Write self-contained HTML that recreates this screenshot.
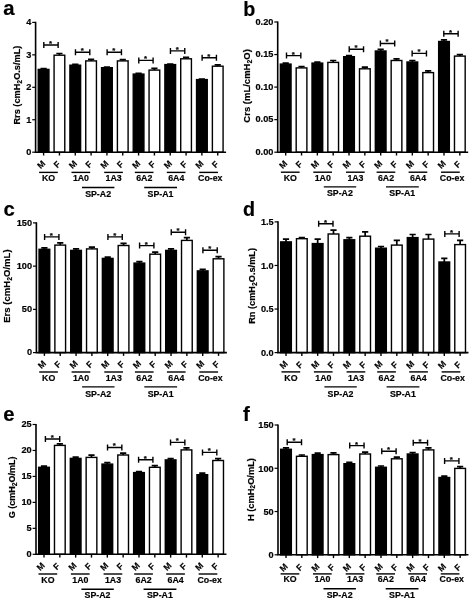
<!DOCTYPE html>
<html><head><meta charset="utf-8"><title>Figure</title>
<style>html,body{margin:0;padding:0;background:#fff}svg{display:block}text{font-family:"Liberation Sans", Arial, sans-serif;fill:#000;stroke:#000;stroke-width:0.18px}</style>
</head><body>
<svg width="472" height="602" viewBox="0 0 472 602">
<rect width="472" height="602" fill="#fff"/>
<text x="3.2" y="15.0" font-size="20.3" font-weight="bold">a</text>
<path d="M43.60 69.40V68.70M40.50 68.70H46.70" stroke="#000" stroke-width="1.7" fill="none"/>
<rect x="38.25" y="69.40" width="10.7" height="82.80" fill="#000" stroke="#000" stroke-width="1.4"/>
<path d="M59.43 55.20V53.50M56.33 53.50H62.53" stroke="#000" stroke-width="1.7" fill="none"/>
<rect x="54.08" y="55.20" width="10.7" height="97.00" fill="#fff" stroke="#000" stroke-width="1.4"/>
<path d="M75.26 65.20V64.40M72.16 64.40H78.36" stroke="#000" stroke-width="1.7" fill="none"/>
<rect x="69.91" y="65.20" width="10.7" height="87.00" fill="#000" stroke="#000" stroke-width="1.4"/>
<path d="M91.09 60.90V59.30M87.99 59.30H94.19" stroke="#000" stroke-width="1.7" fill="none"/>
<rect x="85.74" y="60.90" width="10.7" height="91.30" fill="#fff" stroke="#000" stroke-width="1.4"/>
<path d="M106.92 67.70V67.00M103.82 67.00H110.02" stroke="#000" stroke-width="1.7" fill="none"/>
<rect x="101.57" y="67.70" width="10.7" height="84.50" fill="#000" stroke="#000" stroke-width="1.4"/>
<path d="M122.75 60.90V59.60M119.65 59.60H125.85" stroke="#000" stroke-width="1.7" fill="none"/>
<rect x="117.40" y="60.90" width="10.7" height="91.30" fill="#fff" stroke="#000" stroke-width="1.4"/>
<path d="M138.58 74.10V73.40M135.48 73.40H141.68" stroke="#000" stroke-width="1.7" fill="none"/>
<rect x="133.23" y="74.10" width="10.7" height="78.10" fill="#000" stroke="#000" stroke-width="1.4"/>
<path d="M154.41 70.10V68.40M151.31 68.40H157.51" stroke="#000" stroke-width="1.7" fill="none"/>
<rect x="149.06" y="70.10" width="10.7" height="82.10" fill="#fff" stroke="#000" stroke-width="1.4"/>
<path d="M170.24 64.60V64.00M167.14 64.00H173.34" stroke="#000" stroke-width="1.7" fill="none"/>
<rect x="164.89" y="64.60" width="10.7" height="87.60" fill="#000" stroke="#000" stroke-width="1.4"/>
<path d="M186.07 58.80V57.40M182.97 57.40H189.17" stroke="#000" stroke-width="1.7" fill="none"/>
<rect x="180.72" y="58.80" width="10.7" height="93.40" fill="#fff" stroke="#000" stroke-width="1.4"/>
<path d="M201.90 79.60V79.00M198.80 79.00H205.00" stroke="#000" stroke-width="1.7" fill="none"/>
<rect x="196.55" y="79.60" width="10.7" height="72.60" fill="#000" stroke="#000" stroke-width="1.4"/>
<path d="M217.73 66.20V64.80M214.63 64.80H220.83" stroke="#000" stroke-width="1.7" fill="none"/>
<rect x="212.38" y="66.20" width="10.7" height="86.00" fill="#fff" stroke="#000" stroke-width="1.4"/>
<path d="M43.80 45.00H58.13M43.80 42.00V48.00M58.13 42.00V48.00" stroke="#000" stroke-width="1.4" fill="none"/>
<text x="50.57" y="45.90" font-size="7.8" stroke="#000" stroke-width="0.35" font-weight="bold" text-anchor="middle">*</text>
<path d="M75.46 52.30H89.79M75.46 49.30V55.30M89.79 49.30V55.30" stroke="#000" stroke-width="1.4" fill="none"/>
<text x="82.22" y="53.20" font-size="7.8" stroke="#000" stroke-width="0.35" font-weight="bold" text-anchor="middle">*</text>
<path d="M107.12 52.30H121.45M107.12 49.30V55.30M121.45 49.30V55.30" stroke="#000" stroke-width="1.4" fill="none"/>
<text x="113.88" y="53.20" font-size="7.8" stroke="#000" stroke-width="0.35" font-weight="bold" text-anchor="middle">*</text>
<path d="M138.78 60.40H153.11M138.78 57.40V63.40M153.11 57.40V63.40" stroke="#000" stroke-width="1.4" fill="none"/>
<text x="145.54" y="61.30" font-size="7.8" stroke="#000" stroke-width="0.35" font-weight="bold" text-anchor="middle">*</text>
<path d="M170.44 50.90H184.77M170.44 47.90V53.90M184.77 47.90V53.90" stroke="#000" stroke-width="1.4" fill="none"/>
<text x="177.20" y="51.80" font-size="7.8" stroke="#000" stroke-width="0.35" font-weight="bold" text-anchor="middle">*</text>
<path d="M202.10 57.70H216.43M202.10 54.70V60.70M216.43 54.70V60.70" stroke="#000" stroke-width="1.4" fill="none"/>
<text x="208.86" y="58.60" font-size="7.8" stroke="#000" stroke-width="0.35" font-weight="bold" text-anchor="middle">*</text>
<path d="M35.60 21.80V152.20H226.08" stroke="#000" stroke-width="1.6" fill="none"/>
<path d="M32.20 152.20H35.60" stroke="#000" stroke-width="1.2"/>
<text x="31.30" y="154.95" font-size="9.2" font-weight="bold" text-anchor="end">0</text>
<path d="M32.20 119.75H35.60" stroke="#000" stroke-width="1.2"/>
<text x="31.30" y="122.50" font-size="9.2" font-weight="bold" text-anchor="end">1</text>
<path d="M32.20 87.30H35.60" stroke="#000" stroke-width="1.2"/>
<text x="31.30" y="90.05" font-size="9.2" font-weight="bold" text-anchor="end">2</text>
<path d="M32.20 54.85H35.60" stroke="#000" stroke-width="1.2"/>
<text x="31.30" y="57.60" font-size="9.2" font-weight="bold" text-anchor="end">3</text>
<path d="M32.20 22.40H35.60" stroke="#000" stroke-width="1.2"/>
<text x="31.30" y="25.15" font-size="9.2" font-weight="bold" text-anchor="end">4</text>
<path d="M43.60 152.20V155.50" stroke="#000" stroke-width="1.4"/>
<text transform="translate(41.10 164.40) rotate(-45)" y="3.1" font-size="8.7" stroke="#000" stroke-width="0.3" font-weight="bold" text-anchor="middle">M</text>
<path d="M59.43 152.20V155.50" stroke="#000" stroke-width="1.4"/>
<text transform="translate(56.93 164.40) rotate(-45)" y="3.1" font-size="8.7" stroke="#000" stroke-width="0.3" font-weight="bold" text-anchor="middle">F</text>
<path d="M75.26 152.20V155.50" stroke="#000" stroke-width="1.4"/>
<text transform="translate(72.76 164.40) rotate(-45)" y="3.1" font-size="8.7" stroke="#000" stroke-width="0.3" font-weight="bold" text-anchor="middle">M</text>
<path d="M91.09 152.20V155.50" stroke="#000" stroke-width="1.4"/>
<text transform="translate(88.59 164.40) rotate(-45)" y="3.1" font-size="8.7" stroke="#000" stroke-width="0.3" font-weight="bold" text-anchor="middle">F</text>
<path d="M106.92 152.20V155.50" stroke="#000" stroke-width="1.4"/>
<text transform="translate(104.42 164.40) rotate(-45)" y="3.1" font-size="8.7" stroke="#000" stroke-width="0.3" font-weight="bold" text-anchor="middle">M</text>
<path d="M122.75 152.20V155.50" stroke="#000" stroke-width="1.4"/>
<text transform="translate(120.25 164.40) rotate(-45)" y="3.1" font-size="8.7" stroke="#000" stroke-width="0.3" font-weight="bold" text-anchor="middle">F</text>
<path d="M138.58 152.20V155.50" stroke="#000" stroke-width="1.4"/>
<text transform="translate(136.08 164.40) rotate(-45)" y="3.1" font-size="8.7" stroke="#000" stroke-width="0.3" font-weight="bold" text-anchor="middle">M</text>
<path d="M154.41 152.20V155.50" stroke="#000" stroke-width="1.4"/>
<text transform="translate(151.91 164.40) rotate(-45)" y="3.1" font-size="8.7" stroke="#000" stroke-width="0.3" font-weight="bold" text-anchor="middle">F</text>
<path d="M170.24 152.20V155.50" stroke="#000" stroke-width="1.4"/>
<text transform="translate(167.74 164.40) rotate(-45)" y="3.1" font-size="8.7" stroke="#000" stroke-width="0.3" font-weight="bold" text-anchor="middle">M</text>
<path d="M186.07 152.20V155.50" stroke="#000" stroke-width="1.4"/>
<text transform="translate(183.57 164.40) rotate(-45)" y="3.1" font-size="8.7" stroke="#000" stroke-width="0.3" font-weight="bold" text-anchor="middle">F</text>
<path d="M201.90 152.20V155.50" stroke="#000" stroke-width="1.4"/>
<text transform="translate(199.40 164.40) rotate(-45)" y="3.1" font-size="8.7" stroke="#000" stroke-width="0.3" font-weight="bold" text-anchor="middle">M</text>
<path d="M217.73 152.20V155.50" stroke="#000" stroke-width="1.4"/>
<text transform="translate(215.23 164.40) rotate(-45)" y="3.1" font-size="8.7" stroke="#000" stroke-width="0.3" font-weight="bold" text-anchor="middle">F</text>
<path d="M39.10 172.40H57.80" stroke="#000" stroke-width="1.4"/>
<text x="48.55" y="180.90" font-size="8.8" font-weight="bold" text-anchor="middle">KO</text>
<path d="M71.50 172.40H90.20" stroke="#000" stroke-width="1.4"/>
<text x="80.95" y="180.90" font-size="8.8" font-weight="bold" text-anchor="middle">1A0</text>
<path d="M104.20 172.40H122.90" stroke="#000" stroke-width="1.4"/>
<text x="113.65" y="180.90" font-size="8.8" font-weight="bold" text-anchor="middle">1A3</text>
<path d="M134.80 172.40H153.50" stroke="#000" stroke-width="1.4"/>
<text x="144.25" y="180.90" font-size="8.8" font-weight="bold" text-anchor="middle">6A2</text>
<path d="M166.80 172.40H185.50" stroke="#000" stroke-width="1.4"/>
<text x="176.25" y="180.90" font-size="8.8" font-weight="bold" text-anchor="middle">6A4</text>
<path d="M199.25 172.40H217.95" stroke="#000" stroke-width="1.4"/>
<text x="210.30" y="180.90" font-size="8.8" font-weight="bold" text-anchor="middle">Co-ex</text>
<path d="M82.00 187.50H114.40" stroke="#000" stroke-width="1.4"/>
<text x="98.10" y="196.70" font-size="8.8" font-weight="bold" text-anchor="middle">SP-A2</text>
<path d="M144.20 187.50H177.00" stroke="#000" stroke-width="1.4"/>
<text x="160.50" y="196.70" font-size="8.8" font-weight="bold" text-anchor="middle">SP-A1</text>
<text transform="translate(20.40 85.10) rotate(-90)" font-size="9.2" font-weight="bold" text-anchor="middle">Rrs (cmH<tspan font-size="6.9" dy="1.7">2</tspan><tspan dy="-1.7">O.s/mL)</tspan></text>
<text x="243.3" y="15.7" font-size="19.7" font-weight="bold">b</text>
<path d="M285.70 64.10V63.10M282.60 63.10H288.80" stroke="#000" stroke-width="1.7" fill="none"/>
<rect x="280.35" y="64.10" width="10.7" height="88.10" fill="#000" stroke="#000" stroke-width="1.4"/>
<path d="M301.53 67.90V66.50M298.43 66.50H304.63" stroke="#000" stroke-width="1.7" fill="none"/>
<rect x="296.18" y="67.90" width="10.7" height="84.30" fill="#fff" stroke="#000" stroke-width="1.4"/>
<path d="M317.36 63.10V62.20M314.26 62.20H320.46" stroke="#000" stroke-width="1.7" fill="none"/>
<rect x="312.01" y="63.10" width="10.7" height="89.10" fill="#000" stroke="#000" stroke-width="1.4"/>
<path d="M333.19 62.40V60.50M330.09 60.50H336.29" stroke="#000" stroke-width="1.7" fill="none"/>
<rect x="327.84" y="62.40" width="10.7" height="89.80" fill="#fff" stroke="#000" stroke-width="1.4"/>
<path d="M349.02 56.70V55.70M345.92 55.70H352.12" stroke="#000" stroke-width="1.7" fill="none"/>
<rect x="343.67" y="56.70" width="10.7" height="95.50" fill="#000" stroke="#000" stroke-width="1.4"/>
<path d="M364.85 68.80V67.10M361.75 67.10H367.95" stroke="#000" stroke-width="1.7" fill="none"/>
<rect x="359.50" y="68.80" width="10.7" height="83.40" fill="#fff" stroke="#000" stroke-width="1.4"/>
<path d="M380.68 51.00V49.30M377.58 49.30H383.78" stroke="#000" stroke-width="1.7" fill="none"/>
<rect x="375.33" y="51.00" width="10.7" height="101.20" fill="#000" stroke="#000" stroke-width="1.4"/>
<path d="M396.51 60.50V58.80M393.41 58.80H399.61" stroke="#000" stroke-width="1.7" fill="none"/>
<rect x="391.16" y="60.50" width="10.7" height="91.70" fill="#fff" stroke="#000" stroke-width="1.4"/>
<path d="M412.34 62.00V60.50M409.24 60.50H415.44" stroke="#000" stroke-width="1.7" fill="none"/>
<rect x="406.99" y="62.00" width="10.7" height="90.20" fill="#000" stroke="#000" stroke-width="1.4"/>
<path d="M428.17 72.60V70.90M425.07 70.90H431.27" stroke="#000" stroke-width="1.7" fill="none"/>
<rect x="422.82" y="72.60" width="10.7" height="79.60" fill="#fff" stroke="#000" stroke-width="1.4"/>
<path d="M444.00 41.50V39.80M440.90 39.80H447.10" stroke="#000" stroke-width="1.7" fill="none"/>
<rect x="438.65" y="41.50" width="10.7" height="110.70" fill="#000" stroke="#000" stroke-width="1.4"/>
<path d="M459.83 56.10V54.60M456.73 54.60H462.93" stroke="#000" stroke-width="1.7" fill="none"/>
<rect x="454.48" y="56.10" width="10.7" height="96.10" fill="#fff" stroke="#000" stroke-width="1.4"/>
<path d="M286.50 55.60H300.83M286.50 52.60V58.60M300.83 52.60V58.60" stroke="#000" stroke-width="1.4" fill="none"/>
<text x="293.26" y="56.50" font-size="7.8" stroke="#000" stroke-width="0.35" font-weight="bold" text-anchor="middle">*</text>
<path d="M349.22 49.20H363.55M349.22 46.20V52.20M363.55 46.20V52.20" stroke="#000" stroke-width="1.4" fill="none"/>
<text x="355.99" y="50.10" font-size="7.8" stroke="#000" stroke-width="0.35" font-weight="bold" text-anchor="middle">*</text>
<path d="M380.38 43.50H394.71M380.38 40.50V46.50M394.71 40.50V46.50" stroke="#000" stroke-width="1.4" fill="none"/>
<text x="387.14" y="44.40" font-size="7.8" stroke="#000" stroke-width="0.35" font-weight="bold" text-anchor="middle">*</text>
<path d="M412.14 53.40H426.47M412.14 50.40V56.40M426.47 50.40V56.40" stroke="#000" stroke-width="1.4" fill="none"/>
<text x="418.90" y="54.30" font-size="7.8" stroke="#000" stroke-width="0.35" font-weight="bold" text-anchor="middle">*</text>
<path d="M443.80 33.70H458.13M443.80 30.70V36.70M458.13 30.70V36.70" stroke="#000" stroke-width="1.4" fill="none"/>
<text x="450.57" y="34.60" font-size="7.8" stroke="#000" stroke-width="0.35" font-weight="bold" text-anchor="middle">*</text>
<path d="M277.70 21.40V152.20H468.18" stroke="#000" stroke-width="1.6" fill="none"/>
<path d="M274.30 152.20H277.70" stroke="#000" stroke-width="1.2"/>
<text x="273.40" y="154.95" font-size="9.2" font-weight="bold" text-anchor="end">0.00</text>
<path d="M274.30 119.65H277.70" stroke="#000" stroke-width="1.2"/>
<text x="273.40" y="122.40" font-size="9.2" font-weight="bold" text-anchor="end">0.05</text>
<path d="M274.30 87.10H277.70" stroke="#000" stroke-width="1.2"/>
<text x="273.40" y="89.85" font-size="9.2" font-weight="bold" text-anchor="end">0.10</text>
<path d="M274.30 54.55H277.70" stroke="#000" stroke-width="1.2"/>
<text x="273.40" y="57.30" font-size="9.2" font-weight="bold" text-anchor="end">0.15</text>
<path d="M274.30 22.00H277.70" stroke="#000" stroke-width="1.2"/>
<text x="273.40" y="24.75" font-size="9.2" font-weight="bold" text-anchor="end">0.20</text>
<path d="M285.70 152.20V155.50" stroke="#000" stroke-width="1.4"/>
<text transform="translate(283.20 164.40) rotate(-45)" y="3.1" font-size="8.7" stroke="#000" stroke-width="0.3" font-weight="bold" text-anchor="middle">M</text>
<path d="M301.53 152.20V155.50" stroke="#000" stroke-width="1.4"/>
<text transform="translate(299.03 164.40) rotate(-45)" y="3.1" font-size="8.7" stroke="#000" stroke-width="0.3" font-weight="bold" text-anchor="middle">F</text>
<path d="M317.36 152.20V155.50" stroke="#000" stroke-width="1.4"/>
<text transform="translate(314.86 164.40) rotate(-45)" y="3.1" font-size="8.7" stroke="#000" stroke-width="0.3" font-weight="bold" text-anchor="middle">M</text>
<path d="M333.19 152.20V155.50" stroke="#000" stroke-width="1.4"/>
<text transform="translate(330.69 164.40) rotate(-45)" y="3.1" font-size="8.7" stroke="#000" stroke-width="0.3" font-weight="bold" text-anchor="middle">F</text>
<path d="M349.02 152.20V155.50" stroke="#000" stroke-width="1.4"/>
<text transform="translate(346.52 164.40) rotate(-45)" y="3.1" font-size="8.7" stroke="#000" stroke-width="0.3" font-weight="bold" text-anchor="middle">M</text>
<path d="M364.85 152.20V155.50" stroke="#000" stroke-width="1.4"/>
<text transform="translate(362.35 164.40) rotate(-45)" y="3.1" font-size="8.7" stroke="#000" stroke-width="0.3" font-weight="bold" text-anchor="middle">F</text>
<path d="M380.68 152.20V155.50" stroke="#000" stroke-width="1.4"/>
<text transform="translate(378.18 164.40) rotate(-45)" y="3.1" font-size="8.7" stroke="#000" stroke-width="0.3" font-weight="bold" text-anchor="middle">M</text>
<path d="M396.51 152.20V155.50" stroke="#000" stroke-width="1.4"/>
<text transform="translate(394.01 164.40) rotate(-45)" y="3.1" font-size="8.7" stroke="#000" stroke-width="0.3" font-weight="bold" text-anchor="middle">F</text>
<path d="M412.34 152.20V155.50" stroke="#000" stroke-width="1.4"/>
<text transform="translate(409.84 164.40) rotate(-45)" y="3.1" font-size="8.7" stroke="#000" stroke-width="0.3" font-weight="bold" text-anchor="middle">M</text>
<path d="M428.17 152.20V155.50" stroke="#000" stroke-width="1.4"/>
<text transform="translate(425.67 164.40) rotate(-45)" y="3.1" font-size="8.7" stroke="#000" stroke-width="0.3" font-weight="bold" text-anchor="middle">F</text>
<path d="M444.00 152.20V155.50" stroke="#000" stroke-width="1.4"/>
<text transform="translate(441.50 164.40) rotate(-45)" y="3.1" font-size="8.7" stroke="#000" stroke-width="0.3" font-weight="bold" text-anchor="middle">M</text>
<path d="M459.83 152.20V155.50" stroke="#000" stroke-width="1.4"/>
<text transform="translate(457.33 164.40) rotate(-45)" y="3.1" font-size="8.7" stroke="#000" stroke-width="0.3" font-weight="bold" text-anchor="middle">F</text>
<path d="M280.90 172.20H299.60" stroke="#000" stroke-width="1.4"/>
<text x="290.35" y="180.90" font-size="8.8" font-weight="bold" text-anchor="middle">KO</text>
<path d="M313.30 172.20H332.00" stroke="#000" stroke-width="1.4"/>
<text x="322.75" y="180.90" font-size="8.8" font-weight="bold" text-anchor="middle">1A0</text>
<path d="M346.00 172.20H364.70" stroke="#000" stroke-width="1.4"/>
<text x="355.45" y="180.90" font-size="8.8" font-weight="bold" text-anchor="middle">1A3</text>
<path d="M376.60 172.20H395.30" stroke="#000" stroke-width="1.4"/>
<text x="386.05" y="180.90" font-size="8.8" font-weight="bold" text-anchor="middle">6A2</text>
<path d="M408.60 172.20H427.30" stroke="#000" stroke-width="1.4"/>
<text x="418.05" y="180.90" font-size="8.8" font-weight="bold" text-anchor="middle">6A4</text>
<path d="M441.05 172.20H459.75" stroke="#000" stroke-width="1.4"/>
<text x="452.10" y="180.90" font-size="8.8" font-weight="bold" text-anchor="middle">Co-ex</text>
<path d="M323.80 186.90H356.20" stroke="#000" stroke-width="1.4"/>
<text x="339.90" y="196.30" font-size="8.8" font-weight="bold" text-anchor="middle">SP-A2</text>
<path d="M386.00 186.90H418.80" stroke="#000" stroke-width="1.4"/>
<text x="402.30" y="196.30" font-size="8.8" font-weight="bold" text-anchor="middle">SP-A1</text>
<text transform="translate(250.00 85.90) rotate(-90)" font-size="9.5" font-weight="bold" text-anchor="middle">Crs (mL/cmH<tspan font-size="6.9" dy="1.7">2</tspan><tspan dy="-1.7">O)</tspan></text>
<text x="3.4" y="215.6" font-size="20.3" font-weight="bold">c</text>
<path d="M44.40 249.30V247.80M41.30 247.80H47.50" stroke="#000" stroke-width="1.7" fill="none"/>
<rect x="39.05" y="249.30" width="10.7" height="103.30" fill="#000" stroke="#000" stroke-width="1.4"/>
<path d="M60.23 245.10V242.90M57.13 242.90H63.33" stroke="#000" stroke-width="1.7" fill="none"/>
<rect x="54.88" y="245.10" width="10.7" height="107.50" fill="#fff" stroke="#000" stroke-width="1.4"/>
<path d="M76.06 250.40V248.90M72.96 248.90H79.16" stroke="#000" stroke-width="1.7" fill="none"/>
<rect x="70.71" y="250.40" width="10.7" height="102.20" fill="#000" stroke="#000" stroke-width="1.4"/>
<path d="M91.89 248.90V247.20M88.79 247.20H94.99" stroke="#000" stroke-width="1.7" fill="none"/>
<rect x="86.54" y="248.90" width="10.7" height="103.70" fill="#fff" stroke="#000" stroke-width="1.4"/>
<path d="M107.72 258.40V257.10M104.62 257.10H110.82" stroke="#000" stroke-width="1.7" fill="none"/>
<rect x="102.37" y="258.40" width="10.7" height="94.20" fill="#000" stroke="#000" stroke-width="1.4"/>
<path d="M123.55 245.50V243.40M120.45 243.40H126.65" stroke="#000" stroke-width="1.7" fill="none"/>
<rect x="118.20" y="245.50" width="10.7" height="107.10" fill="#fff" stroke="#000" stroke-width="1.4"/>
<path d="M139.38 263.10V261.60M136.28 261.60H142.48" stroke="#000" stroke-width="1.7" fill="none"/>
<rect x="134.03" y="263.10" width="10.7" height="89.50" fill="#000" stroke="#000" stroke-width="1.4"/>
<path d="M155.21 254.20V252.10M152.11 252.10H158.31" stroke="#000" stroke-width="1.7" fill="none"/>
<rect x="149.86" y="254.20" width="10.7" height="98.40" fill="#fff" stroke="#000" stroke-width="1.4"/>
<path d="M171.04 250.40V248.90M167.94 248.90H174.14" stroke="#000" stroke-width="1.7" fill="none"/>
<rect x="165.69" y="250.40" width="10.7" height="102.20" fill="#000" stroke="#000" stroke-width="1.4"/>
<path d="M186.87 240.40V237.60M183.77 237.60H189.97" stroke="#000" stroke-width="1.7" fill="none"/>
<rect x="181.52" y="240.40" width="10.7" height="112.20" fill="#fff" stroke="#000" stroke-width="1.4"/>
<path d="M202.70 270.90V269.40M199.60 269.40H205.80" stroke="#000" stroke-width="1.7" fill="none"/>
<rect x="197.35" y="270.90" width="10.7" height="81.70" fill="#000" stroke="#000" stroke-width="1.4"/>
<path d="M218.53 258.80V256.70M215.43 256.70H221.63" stroke="#000" stroke-width="1.7" fill="none"/>
<rect x="213.18" y="258.80" width="10.7" height="93.80" fill="#fff" stroke="#000" stroke-width="1.4"/>
<path d="M44.60 236.90H58.93M44.60 233.90V239.90M58.93 233.90V239.90" stroke="#000" stroke-width="1.4" fill="none"/>
<text x="51.37" y="237.80" font-size="7.8" stroke="#000" stroke-width="0.35" font-weight="bold" text-anchor="middle">*</text>
<path d="M107.92 236.90H122.25M107.92 233.90V239.90M122.25 233.90V239.90" stroke="#000" stroke-width="1.4" fill="none"/>
<text x="114.69" y="237.80" font-size="7.8" stroke="#000" stroke-width="0.35" font-weight="bold" text-anchor="middle">*</text>
<path d="M139.58 245.60H153.91M139.58 242.60V248.60M153.91 242.60V248.60" stroke="#000" stroke-width="1.4" fill="none"/>
<text x="146.34" y="246.50" font-size="7.8" stroke="#000" stroke-width="0.35" font-weight="bold" text-anchor="middle">*</text>
<path d="M171.24 232.30H185.57M171.24 229.30V235.30M185.57 229.30V235.30" stroke="#000" stroke-width="1.4" fill="none"/>
<text x="178.00" y="233.20" font-size="7.8" stroke="#000" stroke-width="0.35" font-weight="bold" text-anchor="middle">*</text>
<path d="M202.90 250.30H217.23M202.90 247.30V253.30M217.23 247.30V253.30" stroke="#000" stroke-width="1.4" fill="none"/>
<text x="209.66" y="251.20" font-size="7.8" stroke="#000" stroke-width="0.35" font-weight="bold" text-anchor="middle">*</text>
<path d="M36.40 222.30V352.60H226.88" stroke="#000" stroke-width="1.6" fill="none"/>
<path d="M33.00 352.60H36.40" stroke="#000" stroke-width="1.2"/>
<text x="32.10" y="355.35" font-size="9.2" font-weight="bold" text-anchor="end">0</text>
<path d="M33.00 309.37H36.40" stroke="#000" stroke-width="1.2"/>
<text x="32.10" y="312.12" font-size="9.2" font-weight="bold" text-anchor="end">50</text>
<path d="M33.00 266.13H36.40" stroke="#000" stroke-width="1.2"/>
<text x="32.10" y="268.88" font-size="9.2" font-weight="bold" text-anchor="end">100</text>
<path d="M33.00 222.90H36.40" stroke="#000" stroke-width="1.2"/>
<text x="32.10" y="225.65" font-size="9.2" font-weight="bold" text-anchor="end">150</text>
<path d="M44.40 352.60V355.90" stroke="#000" stroke-width="1.4"/>
<text transform="translate(41.90 364.50) rotate(-45)" y="3.1" font-size="8.7" stroke="#000" stroke-width="0.3" font-weight="bold" text-anchor="middle">M</text>
<path d="M60.23 352.60V355.90" stroke="#000" stroke-width="1.4"/>
<text transform="translate(57.73 364.50) rotate(-45)" y="3.1" font-size="8.7" stroke="#000" stroke-width="0.3" font-weight="bold" text-anchor="middle">F</text>
<path d="M76.06 352.60V355.90" stroke="#000" stroke-width="1.4"/>
<text transform="translate(73.56 364.50) rotate(-45)" y="3.1" font-size="8.7" stroke="#000" stroke-width="0.3" font-weight="bold" text-anchor="middle">M</text>
<path d="M91.89 352.60V355.90" stroke="#000" stroke-width="1.4"/>
<text transform="translate(89.39 364.50) rotate(-45)" y="3.1" font-size="8.7" stroke="#000" stroke-width="0.3" font-weight="bold" text-anchor="middle">F</text>
<path d="M107.72 352.60V355.90" stroke="#000" stroke-width="1.4"/>
<text transform="translate(105.22 364.50) rotate(-45)" y="3.1" font-size="8.7" stroke="#000" stroke-width="0.3" font-weight="bold" text-anchor="middle">M</text>
<path d="M123.55 352.60V355.90" stroke="#000" stroke-width="1.4"/>
<text transform="translate(121.05 364.50) rotate(-45)" y="3.1" font-size="8.7" stroke="#000" stroke-width="0.3" font-weight="bold" text-anchor="middle">F</text>
<path d="M139.38 352.60V355.90" stroke="#000" stroke-width="1.4"/>
<text transform="translate(136.88 364.50) rotate(-45)" y="3.1" font-size="8.7" stroke="#000" stroke-width="0.3" font-weight="bold" text-anchor="middle">M</text>
<path d="M155.21 352.60V355.90" stroke="#000" stroke-width="1.4"/>
<text transform="translate(152.71 364.50) rotate(-45)" y="3.1" font-size="8.7" stroke="#000" stroke-width="0.3" font-weight="bold" text-anchor="middle">F</text>
<path d="M171.04 352.60V355.90" stroke="#000" stroke-width="1.4"/>
<text transform="translate(168.54 364.50) rotate(-45)" y="3.1" font-size="8.7" stroke="#000" stroke-width="0.3" font-weight="bold" text-anchor="middle">M</text>
<path d="M186.87 352.60V355.90" stroke="#000" stroke-width="1.4"/>
<text transform="translate(184.37 364.50) rotate(-45)" y="3.1" font-size="8.7" stroke="#000" stroke-width="0.3" font-weight="bold" text-anchor="middle">F</text>
<path d="M202.70 352.60V355.90" stroke="#000" stroke-width="1.4"/>
<text transform="translate(200.20 364.50) rotate(-45)" y="3.1" font-size="8.7" stroke="#000" stroke-width="0.3" font-weight="bold" text-anchor="middle">M</text>
<path d="M218.53 352.60V355.90" stroke="#000" stroke-width="1.4"/>
<text transform="translate(216.03 364.50) rotate(-45)" y="3.1" font-size="8.7" stroke="#000" stroke-width="0.3" font-weight="bold" text-anchor="middle">F</text>
<path d="M39.20 372.00H57.90" stroke="#000" stroke-width="1.4"/>
<text x="48.65" y="380.90" font-size="8.8" font-weight="bold" text-anchor="middle">KO</text>
<path d="M71.60 372.00H90.30" stroke="#000" stroke-width="1.4"/>
<text x="81.05" y="380.90" font-size="8.8" font-weight="bold" text-anchor="middle">1A0</text>
<path d="M104.30 372.00H123.00" stroke="#000" stroke-width="1.4"/>
<text x="113.75" y="380.90" font-size="8.8" font-weight="bold" text-anchor="middle">1A3</text>
<path d="M134.90 372.00H153.60" stroke="#000" stroke-width="1.4"/>
<text x="144.35" y="380.90" font-size="8.8" font-weight="bold" text-anchor="middle">6A2</text>
<path d="M166.90 372.00H185.60" stroke="#000" stroke-width="1.4"/>
<text x="176.35" y="380.90" font-size="8.8" font-weight="bold" text-anchor="middle">6A4</text>
<path d="M199.35 372.00H218.05" stroke="#000" stroke-width="1.4"/>
<text x="210.40" y="380.90" font-size="8.8" font-weight="bold" text-anchor="middle">Co-ex</text>
<path d="M82.10 386.90H114.50" stroke="#000" stroke-width="1.4"/>
<text x="98.20" y="396.70" font-size="8.8" font-weight="bold" text-anchor="middle">SP-A2</text>
<path d="M144.30 386.90H177.10" stroke="#000" stroke-width="1.4"/>
<text x="160.60" y="396.70" font-size="8.8" font-weight="bold" text-anchor="middle">SP-A1</text>
<text transform="translate(10.40 286.10) rotate(-90)" font-size="9.55" font-weight="bold" text-anchor="middle">Ers (cmH<tspan font-size="6.9" dy="1.7">2</tspan><tspan dy="-1.7">O/mL)</tspan></text>
<text x="243.0" y="215.7" font-size="19.7" font-weight="bold">d</text>
<path d="M286.00 241.90V239.10M282.90 239.10H289.10" stroke="#000" stroke-width="1.7" fill="none"/>
<rect x="280.65" y="241.90" width="10.7" height="110.70" fill="#000" stroke="#000" stroke-width="1.4"/>
<path d="M301.83 238.70V237.60M298.73 237.60H304.93" stroke="#000" stroke-width="1.7" fill="none"/>
<rect x="296.48" y="238.70" width="10.7" height="113.90" fill="#fff" stroke="#000" stroke-width="1.4"/>
<path d="M317.66 243.60V239.10M314.56 239.10H320.76" stroke="#000" stroke-width="1.7" fill="none"/>
<rect x="312.31" y="243.60" width="10.7" height="109.00" fill="#000" stroke="#000" stroke-width="1.4"/>
<path d="M333.49 234.00V230.20M330.39 230.20H336.59" stroke="#000" stroke-width="1.7" fill="none"/>
<rect x="328.14" y="234.00" width="10.7" height="118.60" fill="#fff" stroke="#000" stroke-width="1.4"/>
<path d="M349.32 239.80V237.60M346.22 237.60H352.42" stroke="#000" stroke-width="1.7" fill="none"/>
<rect x="343.97" y="239.80" width="10.7" height="112.80" fill="#000" stroke="#000" stroke-width="1.4"/>
<path d="M365.15 236.20V231.90M362.05 231.90H368.25" stroke="#000" stroke-width="1.7" fill="none"/>
<rect x="359.80" y="236.20" width="10.7" height="116.40" fill="#fff" stroke="#000" stroke-width="1.4"/>
<path d="M380.98 248.20V246.50M377.88 246.50H384.08" stroke="#000" stroke-width="1.7" fill="none"/>
<rect x="375.63" y="248.20" width="10.7" height="104.40" fill="#000" stroke="#000" stroke-width="1.4"/>
<path d="M396.81 245.10V240.40M393.71 240.40H399.91" stroke="#000" stroke-width="1.7" fill="none"/>
<rect x="391.46" y="245.10" width="10.7" height="107.50" fill="#fff" stroke="#000" stroke-width="1.4"/>
<path d="M412.64 237.60V234.50M409.54 234.50H415.74" stroke="#000" stroke-width="1.7" fill="none"/>
<rect x="407.29" y="237.60" width="10.7" height="115.00" fill="#000" stroke="#000" stroke-width="1.4"/>
<path d="M428.47 239.10V234.50M425.37 234.50H431.57" stroke="#000" stroke-width="1.7" fill="none"/>
<rect x="423.12" y="239.10" width="10.7" height="113.50" fill="#fff" stroke="#000" stroke-width="1.4"/>
<path d="M444.30 262.00V258.40M441.20 258.40H447.40" stroke="#000" stroke-width="1.7" fill="none"/>
<rect x="438.95" y="262.00" width="10.7" height="90.60" fill="#000" stroke="#000" stroke-width="1.4"/>
<path d="M460.13 244.60V240.40M457.03 240.40H463.23" stroke="#000" stroke-width="1.7" fill="none"/>
<rect x="454.78" y="244.60" width="10.7" height="108.00" fill="#fff" stroke="#000" stroke-width="1.4"/>
<path d="M318.66 223.80H332.99M318.66 220.80V226.80M332.99 220.80V226.80" stroke="#000" stroke-width="1.4" fill="none"/>
<text x="325.43" y="224.70" font-size="7.8" stroke="#000" stroke-width="0.35" font-weight="bold" text-anchor="middle">*</text>
<path d="M444.80 233.90H459.13M444.80 230.90V236.90M459.13 230.90V236.90" stroke="#000" stroke-width="1.4" fill="none"/>
<text x="451.57" y="234.80" font-size="7.8" stroke="#000" stroke-width="0.35" font-weight="bold" text-anchor="middle">*</text>
<path d="M278.00 221.30V352.60H468.48" stroke="#000" stroke-width="1.6" fill="none"/>
<path d="M274.60 352.60H278.00" stroke="#000" stroke-width="1.2"/>
<text x="273.70" y="355.75" font-size="9.2" font-weight="bold" text-anchor="end">0.0</text>
<path d="M274.60 309.03H278.00" stroke="#000" stroke-width="1.2"/>
<text x="273.70" y="312.18" font-size="9.2" font-weight="bold" text-anchor="end">0.5</text>
<path d="M274.60 265.47H278.00" stroke="#000" stroke-width="1.2"/>
<text x="273.70" y="268.62" font-size="9.2" font-weight="bold" text-anchor="end">1.0</text>
<path d="M274.60 221.90H278.00" stroke="#000" stroke-width="1.2"/>
<text x="273.70" y="225.05" font-size="9.2" font-weight="bold" text-anchor="end">1.5</text>
<path d="M286.00 352.60V355.90" stroke="#000" stroke-width="1.4"/>
<text transform="translate(283.50 364.80) rotate(-45)" y="3.1" font-size="8.7" stroke="#000" stroke-width="0.3" font-weight="bold" text-anchor="middle">M</text>
<path d="M301.83 352.60V355.90" stroke="#000" stroke-width="1.4"/>
<text transform="translate(299.33 364.80) rotate(-45)" y="3.1" font-size="8.7" stroke="#000" stroke-width="0.3" font-weight="bold" text-anchor="middle">F</text>
<path d="M317.66 352.60V355.90" stroke="#000" stroke-width="1.4"/>
<text transform="translate(315.16 364.80) rotate(-45)" y="3.1" font-size="8.7" stroke="#000" stroke-width="0.3" font-weight="bold" text-anchor="middle">M</text>
<path d="M333.49 352.60V355.90" stroke="#000" stroke-width="1.4"/>
<text transform="translate(330.99 364.80) rotate(-45)" y="3.1" font-size="8.7" stroke="#000" stroke-width="0.3" font-weight="bold" text-anchor="middle">F</text>
<path d="M349.32 352.60V355.90" stroke="#000" stroke-width="1.4"/>
<text transform="translate(346.82 364.80) rotate(-45)" y="3.1" font-size="8.7" stroke="#000" stroke-width="0.3" font-weight="bold" text-anchor="middle">M</text>
<path d="M365.15 352.60V355.90" stroke="#000" stroke-width="1.4"/>
<text transform="translate(362.65 364.80) rotate(-45)" y="3.1" font-size="8.7" stroke="#000" stroke-width="0.3" font-weight="bold" text-anchor="middle">F</text>
<path d="M380.98 352.60V355.90" stroke="#000" stroke-width="1.4"/>
<text transform="translate(378.48 364.80) rotate(-45)" y="3.1" font-size="8.7" stroke="#000" stroke-width="0.3" font-weight="bold" text-anchor="middle">M</text>
<path d="M396.81 352.60V355.90" stroke="#000" stroke-width="1.4"/>
<text transform="translate(394.31 364.80) rotate(-45)" y="3.1" font-size="8.7" stroke="#000" stroke-width="0.3" font-weight="bold" text-anchor="middle">F</text>
<path d="M412.64 352.60V355.90" stroke="#000" stroke-width="1.4"/>
<text transform="translate(410.14 364.80) rotate(-45)" y="3.1" font-size="8.7" stroke="#000" stroke-width="0.3" font-weight="bold" text-anchor="middle">M</text>
<path d="M428.47 352.60V355.90" stroke="#000" stroke-width="1.4"/>
<text transform="translate(425.97 364.80) rotate(-45)" y="3.1" font-size="8.7" stroke="#000" stroke-width="0.3" font-weight="bold" text-anchor="middle">F</text>
<path d="M444.30 352.60V355.90" stroke="#000" stroke-width="1.4"/>
<text transform="translate(441.80 364.80) rotate(-45)" y="3.1" font-size="8.7" stroke="#000" stroke-width="0.3" font-weight="bold" text-anchor="middle">M</text>
<path d="M460.13 352.60V355.90" stroke="#000" stroke-width="1.4"/>
<text transform="translate(457.63 364.80) rotate(-45)" y="3.1" font-size="8.7" stroke="#000" stroke-width="0.3" font-weight="bold" text-anchor="middle">F</text>
<path d="M281.50 371.90H300.20" stroke="#000" stroke-width="1.4"/>
<text x="290.95" y="380.90" font-size="8.8" font-weight="bold" text-anchor="middle">KO</text>
<path d="M313.90 371.90H332.60" stroke="#000" stroke-width="1.4"/>
<text x="323.35" y="380.90" font-size="8.8" font-weight="bold" text-anchor="middle">1A0</text>
<path d="M346.60 371.90H365.30" stroke="#000" stroke-width="1.4"/>
<text x="356.05" y="380.90" font-size="8.8" font-weight="bold" text-anchor="middle">1A3</text>
<path d="M377.20 371.90H395.90" stroke="#000" stroke-width="1.4"/>
<text x="386.65" y="380.90" font-size="8.8" font-weight="bold" text-anchor="middle">6A2</text>
<path d="M409.20 371.90H427.90" stroke="#000" stroke-width="1.4"/>
<text x="418.65" y="380.90" font-size="8.8" font-weight="bold" text-anchor="middle">6A4</text>
<path d="M441.65 371.90H460.35" stroke="#000" stroke-width="1.4"/>
<text x="452.70" y="380.90" font-size="8.8" font-weight="bold" text-anchor="middle">Co-ex</text>
<path d="M324.40 386.90H356.80" stroke="#000" stroke-width="1.4"/>
<text x="340.50" y="396.70" font-size="8.8" font-weight="bold" text-anchor="middle">SP-A2</text>
<path d="M386.60 386.90H419.40" stroke="#000" stroke-width="1.4"/>
<text x="402.90" y="396.70" font-size="8.8" font-weight="bold" text-anchor="middle">SP-A1</text>
<text transform="translate(255.20 285.90) rotate(-90)" font-size="9.2" font-weight="bold" text-anchor="middle">Rn (cmH<tspan font-size="6.9" dy="1.7">2</tspan><tspan dy="-1.7">O.s/mL)</tspan></text>
<text x="3.3" y="421.0" font-size="20.3" font-weight="bold">e</text>
<path d="M44.00 467.30V466.20M40.90 466.20H47.10" stroke="#000" stroke-width="1.7" fill="none"/>
<rect x="38.65" y="467.30" width="10.7" height="87.00" fill="#000" stroke="#000" stroke-width="1.4"/>
<path d="M59.83 445.40V443.80M56.73 443.80H62.93" stroke="#000" stroke-width="1.7" fill="none"/>
<rect x="54.48" y="445.40" width="10.7" height="108.90" fill="#fff" stroke="#000" stroke-width="1.4"/>
<path d="M75.66 458.40V457.10M72.56 457.10H78.76" stroke="#000" stroke-width="1.7" fill="none"/>
<rect x="70.31" y="458.40" width="10.7" height="95.90" fill="#000" stroke="#000" stroke-width="1.4"/>
<path d="M91.49 457.40V455.20M88.39 455.20H94.59" stroke="#000" stroke-width="1.7" fill="none"/>
<rect x="86.14" y="457.40" width="10.7" height="96.90" fill="#fff" stroke="#000" stroke-width="1.4"/>
<path d="M107.32 464.10V462.60M104.22 462.60H110.42" stroke="#000" stroke-width="1.7" fill="none"/>
<rect x="101.97" y="464.10" width="10.7" height="90.20" fill="#000" stroke="#000" stroke-width="1.4"/>
<path d="M123.15 455.00V453.10M120.05 453.10H126.25" stroke="#000" stroke-width="1.7" fill="none"/>
<rect x="117.80" y="455.00" width="10.7" height="99.30" fill="#fff" stroke="#000" stroke-width="1.4"/>
<path d="M138.98 472.60V471.50M135.88 471.50H142.08" stroke="#000" stroke-width="1.7" fill="none"/>
<rect x="133.63" y="472.60" width="10.7" height="81.70" fill="#000" stroke="#000" stroke-width="1.4"/>
<path d="M154.81 467.30V465.60M151.71 465.60H157.91" stroke="#000" stroke-width="1.7" fill="none"/>
<rect x="149.46" y="467.30" width="10.7" height="87.00" fill="#fff" stroke="#000" stroke-width="1.4"/>
<path d="M170.64 459.90V458.60M167.54 458.60H173.74" stroke="#000" stroke-width="1.7" fill="none"/>
<rect x="165.29" y="459.90" width="10.7" height="94.40" fill="#000" stroke="#000" stroke-width="1.4"/>
<path d="M186.47 449.90V447.80M183.37 447.80H189.57" stroke="#000" stroke-width="1.7" fill="none"/>
<rect x="181.12" y="449.90" width="10.7" height="104.40" fill="#fff" stroke="#000" stroke-width="1.4"/>
<path d="M202.30 474.70V473.20M199.20 473.20H205.40" stroke="#000" stroke-width="1.7" fill="none"/>
<rect x="196.95" y="474.70" width="10.7" height="79.60" fill="#000" stroke="#000" stroke-width="1.4"/>
<path d="M218.13 460.50V458.60M215.03 458.60H221.23" stroke="#000" stroke-width="1.7" fill="none"/>
<rect x="212.78" y="460.50" width="10.7" height="93.80" fill="#fff" stroke="#000" stroke-width="1.4"/>
<path d="M45.40 439.00H59.73M45.40 436.00V442.00M59.73 436.00V442.00" stroke="#000" stroke-width="1.4" fill="none"/>
<text x="52.17" y="439.90" font-size="7.8" stroke="#000" stroke-width="0.35" font-weight="bold" text-anchor="middle">*</text>
<path d="M107.52 447.50H121.85M107.52 444.50V450.50M121.85 444.50V450.50" stroke="#000" stroke-width="1.4" fill="none"/>
<text x="114.28" y="448.40" font-size="7.8" stroke="#000" stroke-width="0.35" font-weight="bold" text-anchor="middle">*</text>
<path d="M138.58 459.80H152.91M138.58 456.80V462.80M152.91 456.80V462.80" stroke="#000" stroke-width="1.4" fill="none"/>
<text x="145.34" y="460.70" font-size="7.8" stroke="#000" stroke-width="0.35" font-weight="bold" text-anchor="middle">*</text>
<path d="M170.54 442.40H184.87M170.54 439.40V445.40M184.87 439.40V445.40" stroke="#000" stroke-width="1.4" fill="none"/>
<text x="177.30" y="443.30" font-size="7.8" stroke="#000" stroke-width="0.35" font-weight="bold" text-anchor="middle">*</text>
<path d="M202.50 452.40H216.83M202.50 449.40V455.40M216.83 449.40V455.40" stroke="#000" stroke-width="1.4" fill="none"/>
<text x="209.26" y="453.30" font-size="7.8" stroke="#000" stroke-width="0.35" font-weight="bold" text-anchor="middle">*</text>
<path d="M36.00 423.90V554.30H226.48" stroke="#000" stroke-width="1.6" fill="none"/>
<path d="M32.60 554.30H36.00" stroke="#000" stroke-width="1.2"/>
<text x="31.70" y="557.05" font-size="9.2" font-weight="bold" text-anchor="end">0</text>
<path d="M32.60 528.34H36.00" stroke="#000" stroke-width="1.2"/>
<text x="31.70" y="531.09" font-size="9.2" font-weight="bold" text-anchor="end">5</text>
<path d="M32.60 502.38H36.00" stroke="#000" stroke-width="1.2"/>
<text x="31.70" y="505.13" font-size="9.2" font-weight="bold" text-anchor="end">10</text>
<path d="M32.60 476.42H36.00" stroke="#000" stroke-width="1.2"/>
<text x="31.70" y="479.17" font-size="9.2" font-weight="bold" text-anchor="end">15</text>
<path d="M32.60 450.46H36.00" stroke="#000" stroke-width="1.2"/>
<text x="31.70" y="453.21" font-size="9.2" font-weight="bold" text-anchor="end">20</text>
<path d="M32.60 424.50H36.00" stroke="#000" stroke-width="1.2"/>
<text x="31.70" y="427.25" font-size="9.2" font-weight="bold" text-anchor="end">25</text>
<path d="M44.00 554.30V557.60" stroke="#000" stroke-width="1.4"/>
<text transform="translate(40.70 566.50) rotate(-45)" y="3.1" font-size="8.7" stroke="#000" stroke-width="0.3" font-weight="bold" text-anchor="middle">M</text>
<path d="M59.83 554.30V557.60" stroke="#000" stroke-width="1.4"/>
<text transform="translate(56.53 566.50) rotate(-45)" y="3.1" font-size="8.7" stroke="#000" stroke-width="0.3" font-weight="bold" text-anchor="middle">F</text>
<path d="M75.66 554.30V557.60" stroke="#000" stroke-width="1.4"/>
<text transform="translate(72.36 566.50) rotate(-45)" y="3.1" font-size="8.7" stroke="#000" stroke-width="0.3" font-weight="bold" text-anchor="middle">M</text>
<path d="M91.49 554.30V557.60" stroke="#000" stroke-width="1.4"/>
<text transform="translate(88.19 566.50) rotate(-45)" y="3.1" font-size="8.7" stroke="#000" stroke-width="0.3" font-weight="bold" text-anchor="middle">F</text>
<path d="M107.32 554.30V557.60" stroke="#000" stroke-width="1.4"/>
<text transform="translate(104.02 566.50) rotate(-45)" y="3.1" font-size="8.7" stroke="#000" stroke-width="0.3" font-weight="bold" text-anchor="middle">M</text>
<path d="M123.15 554.30V557.60" stroke="#000" stroke-width="1.4"/>
<text transform="translate(119.85 566.50) rotate(-45)" y="3.1" font-size="8.7" stroke="#000" stroke-width="0.3" font-weight="bold" text-anchor="middle">F</text>
<path d="M138.98 554.30V557.60" stroke="#000" stroke-width="1.4"/>
<text transform="translate(135.68 566.50) rotate(-45)" y="3.1" font-size="8.7" stroke="#000" stroke-width="0.3" font-weight="bold" text-anchor="middle">M</text>
<path d="M154.81 554.30V557.60" stroke="#000" stroke-width="1.4"/>
<text transform="translate(151.51 566.50) rotate(-45)" y="3.1" font-size="8.7" stroke="#000" stroke-width="0.3" font-weight="bold" text-anchor="middle">F</text>
<path d="M170.64 554.30V557.60" stroke="#000" stroke-width="1.4"/>
<text transform="translate(167.34 566.50) rotate(-45)" y="3.1" font-size="8.7" stroke="#000" stroke-width="0.3" font-weight="bold" text-anchor="middle">M</text>
<path d="M186.47 554.30V557.60" stroke="#000" stroke-width="1.4"/>
<text transform="translate(183.17 566.50) rotate(-45)" y="3.1" font-size="8.7" stroke="#000" stroke-width="0.3" font-weight="bold" text-anchor="middle">F</text>
<path d="M202.30 554.30V557.60" stroke="#000" stroke-width="1.4"/>
<text transform="translate(199.00 566.50) rotate(-45)" y="3.1" font-size="8.7" stroke="#000" stroke-width="0.3" font-weight="bold" text-anchor="middle">M</text>
<path d="M218.13 554.30V557.60" stroke="#000" stroke-width="1.4"/>
<text transform="translate(214.83 566.50) rotate(-45)" y="3.1" font-size="8.7" stroke="#000" stroke-width="0.3" font-weight="bold" text-anchor="middle">F</text>
<path d="M38.50 574.00H57.20" stroke="#000" stroke-width="1.4"/>
<text x="47.95" y="582.60" font-size="8.8" font-weight="bold" text-anchor="middle">KO</text>
<path d="M70.90 574.00H89.60" stroke="#000" stroke-width="1.4"/>
<text x="80.35" y="582.60" font-size="8.8" font-weight="bold" text-anchor="middle">1A0</text>
<path d="M103.60 574.00H122.30" stroke="#000" stroke-width="1.4"/>
<text x="113.05" y="582.60" font-size="8.8" font-weight="bold" text-anchor="middle">1A3</text>
<path d="M134.20 574.00H152.90" stroke="#000" stroke-width="1.4"/>
<text x="143.65" y="582.60" font-size="8.8" font-weight="bold" text-anchor="middle">6A2</text>
<path d="M166.20 574.00H184.90" stroke="#000" stroke-width="1.4"/>
<text x="175.65" y="582.60" font-size="8.8" font-weight="bold" text-anchor="middle">6A4</text>
<path d="M198.65 574.00H217.35" stroke="#000" stroke-width="1.4"/>
<text x="209.70" y="582.60" font-size="8.8" font-weight="bold" text-anchor="middle">Co-ex</text>
<path d="M81.40 589.20H113.80" stroke="#000" stroke-width="1.4"/>
<text x="97.50" y="598.20" font-size="8.8" font-weight="bold" text-anchor="middle">SP-A2</text>
<path d="M143.60 589.20H176.40" stroke="#000" stroke-width="1.4"/>
<text x="159.90" y="598.20" font-size="8.8" font-weight="bold" text-anchor="middle">SP-A1</text>
<text transform="translate(15.30 487.40) rotate(-90)" font-size="9.0" font-weight="bold" text-anchor="middle">G (cmH<tspan font-size="6.9" dy="1.7">2</tspan><tspan dy="-1.7">O/mL)</tspan></text>
<text x="243.1" y="420.8" font-size="20.3" font-weight="bold">f</text>
<path d="M286.00 449.30V447.80M282.90 447.80H289.10" stroke="#000" stroke-width="1.7" fill="none"/>
<rect x="280.65" y="449.30" width="10.7" height="105.50" fill="#000" stroke="#000" stroke-width="1.4"/>
<path d="M301.83 456.30V455.00M298.73 455.00H304.93" stroke="#000" stroke-width="1.7" fill="none"/>
<rect x="296.48" y="456.30" width="10.7" height="98.50" fill="#fff" stroke="#000" stroke-width="1.4"/>
<path d="M317.66 454.60V453.10M314.56 453.10H320.76" stroke="#000" stroke-width="1.7" fill="none"/>
<rect x="312.31" y="454.60" width="10.7" height="100.20" fill="#000" stroke="#000" stroke-width="1.4"/>
<path d="M333.49 454.60V452.90M330.39 452.90H336.59" stroke="#000" stroke-width="1.7" fill="none"/>
<rect x="328.14" y="454.60" width="10.7" height="100.20" fill="#fff" stroke="#000" stroke-width="1.4"/>
<path d="M349.32 463.70V462.40M346.22 462.40H352.42" stroke="#000" stroke-width="1.7" fill="none"/>
<rect x="343.97" y="463.70" width="10.7" height="91.10" fill="#000" stroke="#000" stroke-width="1.4"/>
<path d="M365.15 454.00V452.10M362.05 452.10H368.25" stroke="#000" stroke-width="1.7" fill="none"/>
<rect x="359.80" y="454.00" width="10.7" height="100.80" fill="#fff" stroke="#000" stroke-width="1.4"/>
<path d="M380.98 467.30V466.00M377.88 466.00H384.08" stroke="#000" stroke-width="1.7" fill="none"/>
<rect x="375.63" y="467.30" width="10.7" height="87.50" fill="#000" stroke="#000" stroke-width="1.4"/>
<path d="M396.81 458.80V457.10M393.71 457.10H399.91" stroke="#000" stroke-width="1.7" fill="none"/>
<rect x="391.46" y="458.80" width="10.7" height="96.00" fill="#fff" stroke="#000" stroke-width="1.4"/>
<path d="M412.64 454.00V452.50M409.54 452.50H415.74" stroke="#000" stroke-width="1.7" fill="none"/>
<rect x="407.29" y="454.00" width="10.7" height="100.80" fill="#000" stroke="#000" stroke-width="1.4"/>
<path d="M428.47 449.90V447.80M425.37 447.80H431.57" stroke="#000" stroke-width="1.7" fill="none"/>
<rect x="423.12" y="449.90" width="10.7" height="104.90" fill="#fff" stroke="#000" stroke-width="1.4"/>
<path d="M444.30 477.50V476.20M441.20 476.20H447.40" stroke="#000" stroke-width="1.7" fill="none"/>
<rect x="438.95" y="477.50" width="10.7" height="77.30" fill="#000" stroke="#000" stroke-width="1.4"/>
<path d="M460.13 468.40V466.70M457.03 466.70H463.23" stroke="#000" stroke-width="1.7" fill="none"/>
<rect x="454.78" y="468.40" width="10.7" height="86.40" fill="#fff" stroke="#000" stroke-width="1.4"/>
<path d="M287.20 442.20H301.53M287.20 439.20V445.20M301.53 439.20V445.20" stroke="#000" stroke-width="1.4" fill="none"/>
<text x="293.97" y="443.10" font-size="7.8" stroke="#000" stroke-width="0.35" font-weight="bold" text-anchor="middle">*</text>
<path d="M349.72 445.60H364.05M349.72 442.60V448.60M364.05 442.60V448.60" stroke="#000" stroke-width="1.4" fill="none"/>
<text x="356.49" y="446.50" font-size="7.8" stroke="#000" stroke-width="0.35" font-weight="bold" text-anchor="middle">*</text>
<path d="M381.78 451.30H396.11M381.78 448.30V454.30M396.11 448.30V454.30" stroke="#000" stroke-width="1.4" fill="none"/>
<text x="388.55" y="452.20" font-size="7.8" stroke="#000" stroke-width="0.35" font-weight="bold" text-anchor="middle">*</text>
<path d="M413.24 442.80H427.57M413.24 439.80V445.80M427.57 439.80V445.80" stroke="#000" stroke-width="1.4" fill="none"/>
<text x="420.00" y="443.70" font-size="7.8" stroke="#000" stroke-width="0.35" font-weight="bold" text-anchor="middle">*</text>
<path d="M444.60 460.90H458.93M444.60 457.90V463.90M458.93 457.90V463.90" stroke="#000" stroke-width="1.4" fill="none"/>
<text x="451.37" y="461.80" font-size="7.8" stroke="#000" stroke-width="0.35" font-weight="bold" text-anchor="middle">*</text>
<path d="M278.00 424.40V554.80H468.48" stroke="#000" stroke-width="1.6" fill="none"/>
<path d="M274.60 554.80H278.00" stroke="#000" stroke-width="1.2"/>
<text x="273.70" y="558.25" font-size="9.2" font-weight="bold" text-anchor="end">0</text>
<path d="M274.60 511.53H278.00" stroke="#000" stroke-width="1.2"/>
<text x="273.70" y="514.98" font-size="9.2" font-weight="bold" text-anchor="end">50</text>
<path d="M274.60 468.27H278.00" stroke="#000" stroke-width="1.2"/>
<text x="273.70" y="471.72" font-size="9.2" font-weight="bold" text-anchor="end">100</text>
<path d="M274.60 425.00H278.00" stroke="#000" stroke-width="1.2"/>
<text x="273.70" y="428.45" font-size="9.2" font-weight="bold" text-anchor="end">150</text>
<path d="M286.00 554.80V558.10" stroke="#000" stroke-width="1.4"/>
<text transform="translate(283.60 567.40) rotate(-45)" y="3.1" font-size="8.7" stroke="#000" stroke-width="0.3" font-weight="bold" text-anchor="middle">M</text>
<path d="M301.83 554.80V558.10" stroke="#000" stroke-width="1.4"/>
<text transform="translate(299.43 567.40) rotate(-45)" y="3.1" font-size="8.7" stroke="#000" stroke-width="0.3" font-weight="bold" text-anchor="middle">F</text>
<path d="M317.66 554.80V558.10" stroke="#000" stroke-width="1.4"/>
<text transform="translate(315.26 567.40) rotate(-45)" y="3.1" font-size="8.7" stroke="#000" stroke-width="0.3" font-weight="bold" text-anchor="middle">M</text>
<path d="M333.49 554.80V558.10" stroke="#000" stroke-width="1.4"/>
<text transform="translate(331.09 567.40) rotate(-45)" y="3.1" font-size="8.7" stroke="#000" stroke-width="0.3" font-weight="bold" text-anchor="middle">F</text>
<path d="M349.32 554.80V558.10" stroke="#000" stroke-width="1.4"/>
<text transform="translate(346.92 567.40) rotate(-45)" y="3.1" font-size="8.7" stroke="#000" stroke-width="0.3" font-weight="bold" text-anchor="middle">M</text>
<path d="M365.15 554.80V558.10" stroke="#000" stroke-width="1.4"/>
<text transform="translate(362.75 567.40) rotate(-45)" y="3.1" font-size="8.7" stroke="#000" stroke-width="0.3" font-weight="bold" text-anchor="middle">F</text>
<path d="M380.98 554.80V558.10" stroke="#000" stroke-width="1.4"/>
<text transform="translate(378.58 567.40) rotate(-45)" y="3.1" font-size="8.7" stroke="#000" stroke-width="0.3" font-weight="bold" text-anchor="middle">M</text>
<path d="M396.81 554.80V558.10" stroke="#000" stroke-width="1.4"/>
<text transform="translate(394.41 567.40) rotate(-45)" y="3.1" font-size="8.7" stroke="#000" stroke-width="0.3" font-weight="bold" text-anchor="middle">F</text>
<path d="M412.64 554.80V558.10" stroke="#000" stroke-width="1.4"/>
<text transform="translate(410.24 567.40) rotate(-45)" y="3.1" font-size="8.7" stroke="#000" stroke-width="0.3" font-weight="bold" text-anchor="middle">M</text>
<path d="M428.47 554.80V558.10" stroke="#000" stroke-width="1.4"/>
<text transform="translate(426.07 567.40) rotate(-45)" y="3.1" font-size="8.7" stroke="#000" stroke-width="0.3" font-weight="bold" text-anchor="middle">F</text>
<path d="M444.30 554.80V558.10" stroke="#000" stroke-width="1.4"/>
<text transform="translate(441.90 567.40) rotate(-45)" y="3.1" font-size="8.7" stroke="#000" stroke-width="0.3" font-weight="bold" text-anchor="middle">M</text>
<path d="M460.13 554.80V558.10" stroke="#000" stroke-width="1.4"/>
<text transform="translate(457.73 567.40) rotate(-45)" y="3.1" font-size="8.7" stroke="#000" stroke-width="0.3" font-weight="bold" text-anchor="middle">F</text>
<path d="M280.60 573.90H299.30" stroke="#000" stroke-width="1.4"/>
<text x="290.05" y="582.40" font-size="8.8" font-weight="bold" text-anchor="middle">KO</text>
<path d="M313.00 573.90H331.70" stroke="#000" stroke-width="1.4"/>
<text x="322.45" y="582.40" font-size="8.8" font-weight="bold" text-anchor="middle">1A0</text>
<path d="M345.70 573.90H364.40" stroke="#000" stroke-width="1.4"/>
<text x="355.15" y="582.40" font-size="8.8" font-weight="bold" text-anchor="middle">1A3</text>
<path d="M376.30 573.90H395.00" stroke="#000" stroke-width="1.4"/>
<text x="385.75" y="582.40" font-size="8.8" font-weight="bold" text-anchor="middle">6A2</text>
<path d="M408.30 573.90H427.00" stroke="#000" stroke-width="1.4"/>
<text x="417.75" y="582.40" font-size="8.8" font-weight="bold" text-anchor="middle">6A4</text>
<path d="M440.75 573.90H459.45" stroke="#000" stroke-width="1.4"/>
<text x="451.80" y="582.40" font-size="8.8" font-weight="bold" text-anchor="middle">Co-ex</text>
<path d="M323.50 588.80H355.90" stroke="#000" stroke-width="1.4"/>
<text x="339.60" y="597.70" font-size="8.8" font-weight="bold" text-anchor="middle">SP-A2</text>
<path d="M385.70 588.80H418.50" stroke="#000" stroke-width="1.4"/>
<text x="402.00" y="597.70" font-size="8.8" font-weight="bold" text-anchor="middle">SP-A1</text>
<text transform="translate(253.60 489.60) rotate(-90)" font-size="9.27" font-weight="bold" text-anchor="middle">H (cmH<tspan font-size="6.9" dy="1.7">2</tspan><tspan dy="-1.7">O/mL)</tspan></text>
</svg>
</body></html>
